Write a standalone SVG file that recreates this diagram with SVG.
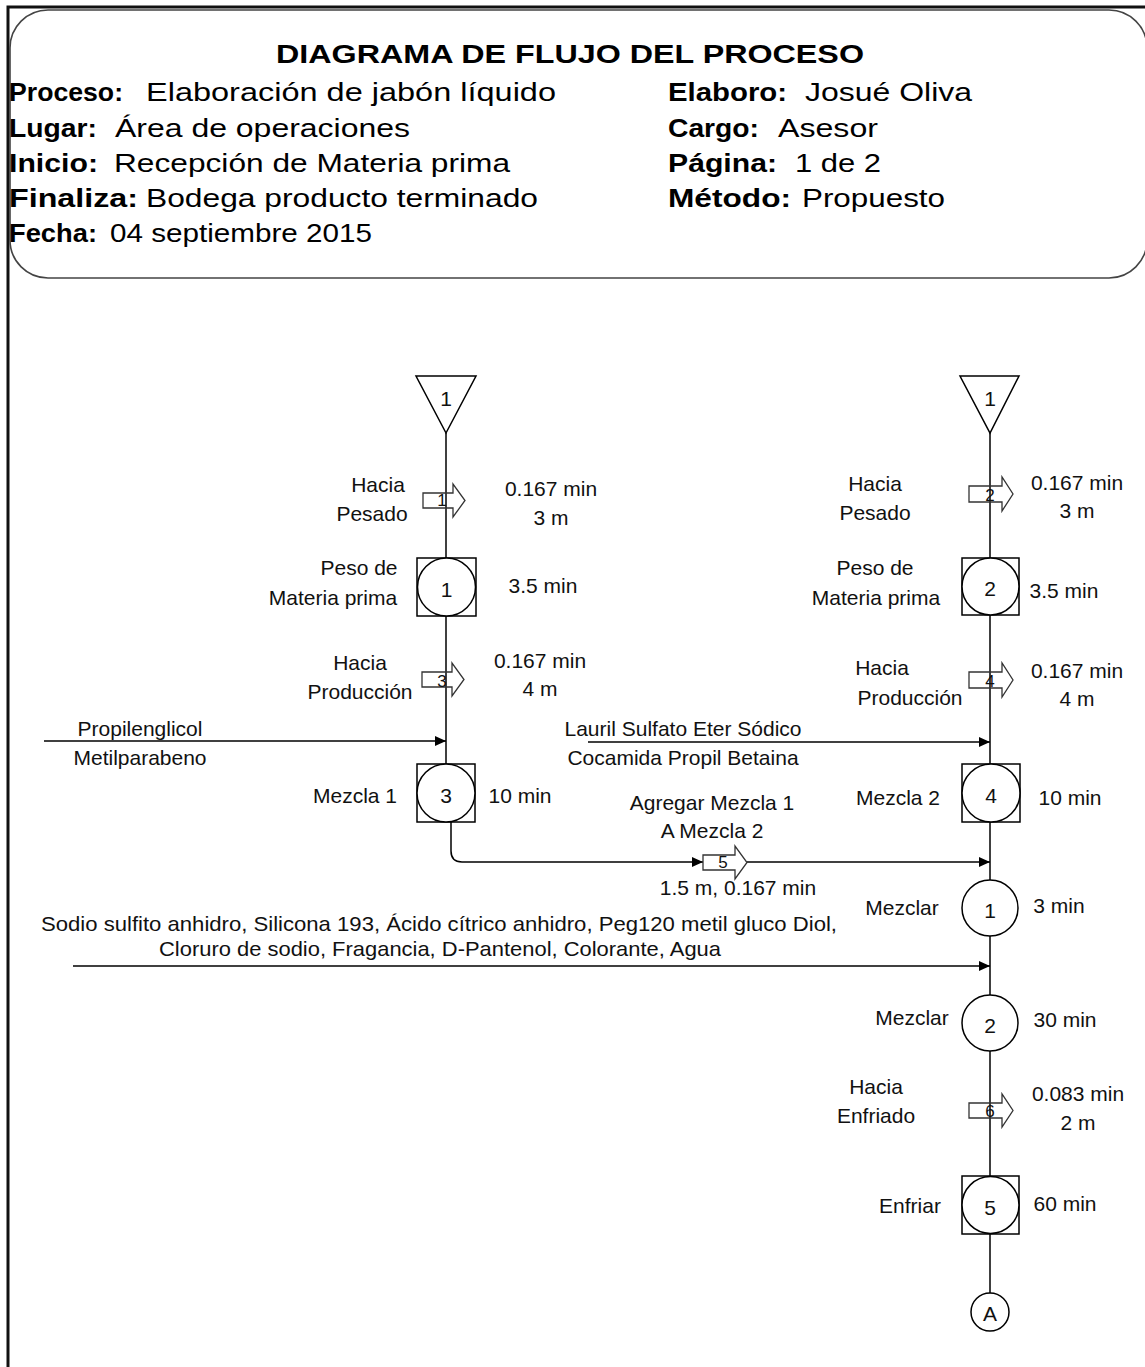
<svg xmlns="http://www.w3.org/2000/svg" width="1145" height="1367" viewBox="0 0 1145 1367">
<style>
.hd{font-family:"Liberation Sans",Arial,sans-serif;font-size:26px;fill:#000}
.b{font-weight:bold}
.t{font-family:"Liberation Sans",Arial,sans-serif;font-size:21px;fill:#111;text-anchor:middle;dominant-baseline:central}
.s{font-family:"Liberation Sans",Arial,sans-serif;font-size:17px;fill:#111;text-anchor:middle;dominant-baseline:central}
.ln{fill:none;stroke:#000;stroke-width:1.5}
.sym{fill:#fff;stroke:#000;stroke-width:1.5}
.tr{fill:none;stroke:#333;stroke-width:1.3}
</style>
<defs>
<marker id="ah" markerUnits="userSpaceOnUse" markerWidth="11" markerHeight="10" refX="11" refY="5" orient="auto">
<path d="M0,0 L11,5 L0,10 Z" fill="#000"/>
</marker>
</defs>
<rect width="1145" height="1367" fill="#fff"/>
<g id="frame">
<path d="M8,1367 V7 H1145" fill="none" stroke="#111" stroke-width="3"/>
<rect x="10" y="10" width="1137" height="268" rx="38" ry="38" fill="none" stroke="#444" stroke-width="1.6"/>
</g>
<g id="header">
<text class="hd b" x="570" y="63" text-anchor="middle" font-size="30" textLength="588" lengthAdjust="spacingAndGlyphs">DIAGRAMA DE FLUJO DEL PROCESO</text>
<text class="hd b" x="9" y="101" textLength="114" lengthAdjust="spacingAndGlyphs">Proceso:</text>
<text class="hd" x="146" y="101" textLength="410" lengthAdjust="spacingAndGlyphs">Elaboración de jabón líquido</text>
<text class="hd b" x="9" y="137" textLength="88" lengthAdjust="spacingAndGlyphs">Lugar:</text>
<text class="hd" x="115" y="137" textLength="295" lengthAdjust="spacingAndGlyphs">Área de operaciones</text>
<text class="hd b" x="9" y="172" textLength="89" lengthAdjust="spacingAndGlyphs">Inicio:</text>
<text class="hd" x="114" y="172" textLength="396" lengthAdjust="spacingAndGlyphs">Recepción de Materia prima</text>
<text class="hd b" x="9" y="207" textLength="129" lengthAdjust="spacingAndGlyphs">Finaliza:</text>
<text class="hd" x="146" y="207" textLength="392" lengthAdjust="spacingAndGlyphs">Bodega producto terminado</text>
<text class="hd b" x="9" y="242" textLength="88" lengthAdjust="spacingAndGlyphs">Fecha:</text>
<text class="hd" x="110" y="242" textLength="262" lengthAdjust="spacingAndGlyphs">04 septiembre 2015</text>
<text class="hd b" x="668" y="101" textLength="119" lengthAdjust="spacingAndGlyphs">Elaboro:</text>
<text class="hd" x="805" y="101" textLength="167" lengthAdjust="spacingAndGlyphs">Josué Oliva</text>
<text class="hd b" x="668" y="137" textLength="91" lengthAdjust="spacingAndGlyphs">Cargo:</text>
<text class="hd" x="778" y="137" textLength="100" lengthAdjust="spacingAndGlyphs">Asesor</text>
<text class="hd b" x="668" y="172" textLength="109" lengthAdjust="spacingAndGlyphs">Página:</text>
<text class="hd" x="795" y="172" textLength="86" lengthAdjust="spacingAndGlyphs">1 de 2</text>
<text class="hd b" x="668" y="207" textLength="123" lengthAdjust="spacingAndGlyphs">Método:</text>
<text class="hd" x="802" y="207" textLength="143" lengthAdjust="spacingAndGlyphs">Propuesto</text>
</g>
<g id="connectors">
<path class="ln" d="M446,433 V558"/>
<path class="ln" d="M446,616 V764"/>
<path class="ln" d="M44,741 H446" marker-end="url(#ah)"/>
<path class="ln" d="M451,822 V851 Q451,862 462,862 H703" marker-end="url(#ah)"/>
<path class="ln" d="M747,862 H990" marker-end="url(#ah)"/>
<path class="ln" d="M990,433 V558"/>
<path class="ln" d="M990,615 V764"/>
<path class="ln" d="M588,742 H990" marker-end="url(#ah)"/>
<path class="ln" d="M990,822 V880"/>
<path class="ln" d="M990,936 V995"/>
<path class="ln" d="M73,966 H990" marker-end="url(#ah)"/>
<path class="ln" d="M990,1051 V1176"/>
<path class="ln" d="M990,1234 V1293"/>
</g>
<g id="store-left">
<path class="sym" d="M416,376 H476 L446,433 Z"/>
<text class="t" x="446" y="398">1</text>
</g>
<g id="store-right">
<path class="sym" d="M960,376 H1019 L990,433 Z"/>
<text class="t" x="990" y="398">1</text>
</g>
<g id="transport-1">
<path class="tr" d="M423,493 H453 V484 L465,500.5 L453,517 V508 H423 Z"/>
<text class="s" x="442" y="500">1</text>
<text class="t" x="378" y="484">Hacia</text>
<text class="t" x="372" y="513">Pesado</text>
<text class="t" x="551" y="488">0.167 min</text>
<text class="t" x="551" y="517">3 m</text>
</g>
<g id="op-1">
<rect class="sym" x="417" y="558" width="59" height="58"/>
<circle class="sym" cx="446.5" cy="587" r="29"/>
<text class="t" x="446.5" y="589">1</text>
<text class="t" x="359" y="567">Peso de</text>
<text class="t" x="333" y="597">Materia prima</text>
<text class="t" x="543" y="585">3.5 min</text>
</g>
<g id="transport-3">
<path class="tr" d="M422,672 H452 V663 L464,679.5 L452,696 V687 H422 Z"/>
<text class="s" x="442" y="681">3</text>
<text class="t" x="360" y="662">Hacia</text>
<text class="t" x="360" y="691">Producción</text>
<text class="t" x="540" y="660">0.167 min</text>
<text class="t" x="540" y="688">4 m</text>
</g>
<g id="input-left">
<text class="t" x="140" y="728">Propilenglicol</text>
<text class="t" x="140" y="757">Metilparabeno</text>
</g>
<g id="op-3">
<rect class="sym" x="417" y="764" width="58" height="58"/>
<circle class="sym" cx="446" cy="793" r="29"/>
<text class="t" x="446" y="795">3</text>
<text class="t" x="355" y="795">Mezcla 1</text>
<text class="t" x="520" y="795">10 min</text>
</g>
<g id="transport-5">
<path class="tr" d="M703,855 H735 V846 L747,862.5 L735,879 V870 H703 Z"/>
<text class="s" x="723" y="862">5</text>
<text class="t" x="712" y="802">Agregar Mezcla 1</text>
<text class="t" x="712" y="830">A Mezcla 2</text>
<text class="t" x="738" y="887">1.5 m, 0.167 min</text>
</g>
<g id="transport-2">
<path class="tr" d="M969,486 H1002 V477 L1013,494 L1002,511 V502 H969 Z"/>
<text class="s" x="990" y="495">2</text>
<text class="t" x="875" y="483">Hacia</text>
<text class="t" x="875" y="512">Pesado</text>
<text class="t" x="1077" y="482">0.167 min</text>
<text class="t" x="1077" y="510">3 m</text>
</g>
<g id="op-2">
<rect class="sym" x="962" y="558" width="57" height="57"/>
<circle class="sym" cx="990.5" cy="586.5" r="28.5"/>
<text class="t" x="990" y="588">2</text>
<text class="t" x="875" y="567">Peso de</text>
<text class="t" x="876" y="597">Materia prima</text>
<text class="t" x="1064" y="590">3.5 min</text>
</g>
<g id="transport-4">
<path class="tr" d="M969,672 H1002 V663 L1013,680 L1002,697 V688 H969 Z"/>
<text class="s" x="990" y="681">4</text>
<text class="t" x="882" y="667">Hacia</text>
<text class="t" x="910" y="697">Producción</text>
<text class="t" x="1077" y="670">0.167 min</text>
<text class="t" x="1077" y="698">4 m</text>
</g>
<g id="input-right">
<text class="t" x="683" y="728">Lauril Sulfato Eter Sódico</text>
<text class="t" x="683" y="757">Cocamida Propil Betaina</text>
</g>
<g id="op-4">
<rect class="sym" x="962" y="764" width="58" height="58"/>
<circle class="sym" cx="991" cy="793" r="29"/>
<text class="t" x="991" y="795">4</text>
<text class="t" x="898" y="797">Mezcla 2</text>
<text class="t" x="1070" y="797">10 min</text>
</g>
<g id="mix-1">
<circle class="sym" cx="990" cy="908" r="28"/>
<text class="t" x="990" y="910">1</text>
<text class="t" x="902" y="907">Mezclar</text>
<text class="t" x="1059" y="905">3 min</text>
</g>
<g id="input-bottom">
<text class="t" x="439" y="923" textLength="796" lengthAdjust="spacingAndGlyphs">Sodio sulfito anhidro, Silicona 193, Ácido cítrico anhidro, Peg120 metil gluco Diol,</text>
<text class="t" x="440" y="948" textLength="562" lengthAdjust="spacingAndGlyphs">Cloruro de sodio, Fragancia, D-Pantenol, Colorante, Agua</text>
</g>
<g id="mix-2">
<circle class="sym" cx="990" cy="1023" r="28"/>
<text class="t" x="990" y="1025">2</text>
<text class="t" x="912" y="1017">Mezclar</text>
<text class="t" x="1065" y="1019">30 min</text>
</g>
<g id="transport-6">
<path class="tr" d="M969,1103 H1002 V1094 L1013,1110.5 L1002,1127 V1118 H969 Z"/>
<text class="s" x="990" y="1111">6</text>
<text class="t" x="876" y="1086">Hacia</text>
<text class="t" x="876" y="1115">Enfriado</text>
<text class="t" x="1078" y="1093">0.083 min</text>
<text class="t" x="1078" y="1122">2 m</text>
</g>
<g id="op-5">
<rect class="sym" x="962" y="1176" width="57" height="58"/>
<circle class="sym" cx="990.5" cy="1205" r="28.5"/>
<text class="t" x="990" y="1207">5</text>
<text class="t" x="910" y="1205">Enfriar</text>
<text class="t" x="1065" y="1203">60 min</text>
</g>
<g id="connector-A">
<circle class="sym" cx="990" cy="1312" r="19"/>
<text class="t" x="990" y="1313">A</text>
</g>
</svg>
